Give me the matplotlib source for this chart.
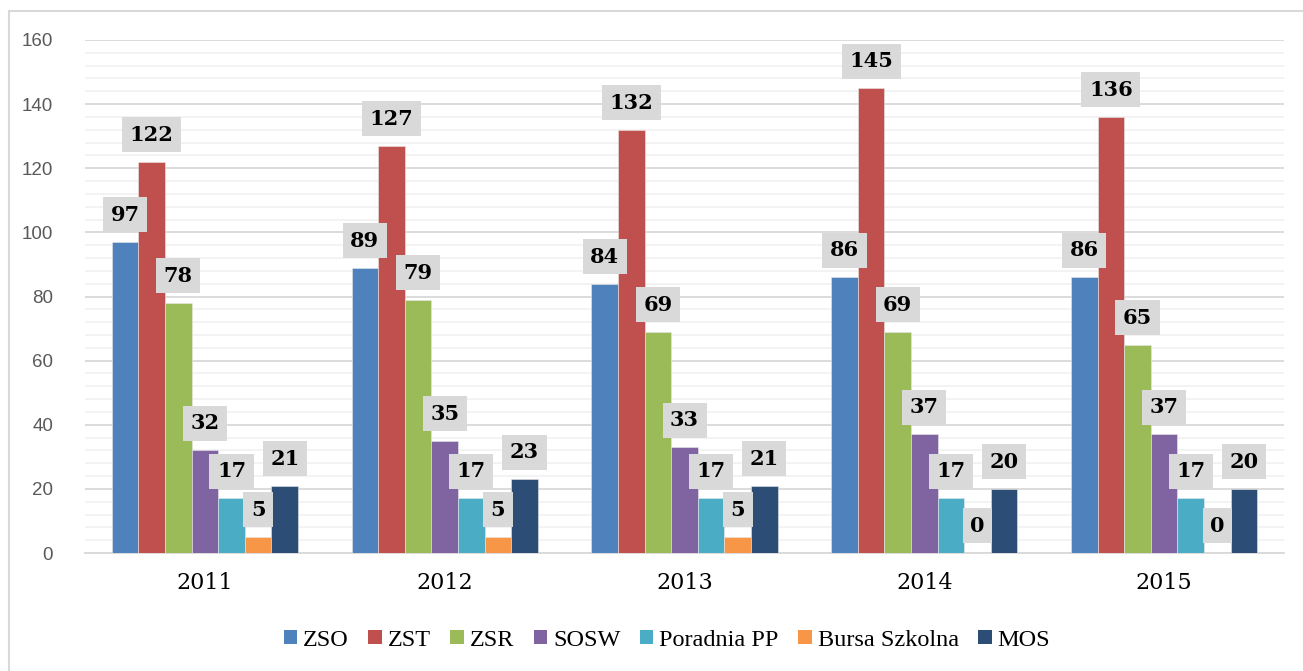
import matplotlib
matplotlib.use("Agg")
import matplotlib.pyplot as plt
import numpy as np
from matplotlib.patches import Rectangle, Patch
from matplotlib.ticker import MultipleLocator
from matplotlib.font_manager import FontProperties

years = ["2011", "2012", "2013", "2014", "2015"]
series_names = ["ZSO", "ZST", "ZSR", "SOSW", "Poradnia PP", "Bursa Szkolna", "MOS"]
zso = [97, 89, 84, 86, 86]
zst = [122, 127, 132, 145, 136]
zsr = [78, 79, 69, 69, 65]
sosw = [32, 35, 33, 37, 37]
poradnia = [17, 17, 17, 17, 17]
bursa = [5, 5, 5, 0, 0]
mos = [21, 23, 21, 20, 20]
all_series = [zso, zst, zsr, sosw, poradnia, bursa, mos]
colors = ["#4F81BD", "#C0504D", "#9BBB59", "#8064A2", "#4BACC6", "#F79646", "#2C4D75"]

W, H = 1303, 671
fig = plt.figure(figsize=(W / 100, H / 100), dpi=100)
ax = fig.add_axes([85 / W, (H - 553) / H, 1199 / W, 513 / H])

# outer chart border (only top/left visible)
fig.patches.append(Rectangle((8.5 / W, -0.1), 1.2, (H - 10.5) / H + 0.1,
                             transform=fig.transFigure, fill=False,
                             edgecolor="#d9d9d9", linewidth=1.5, zorder=0))

label_font = FontProperties(family="DejaVu Serif", weight="bold", size=15)
x = np.arange(len(years))
bw = 0.111
for i, (vals, col, name) in enumerate(zip(all_series, colors, series_names)):
    pos = x + (i - 3) * bw
    ax.bar(pos, vals, width=bw, color=col, edgecolor="#e8e8e8",
           linewidth=0.4, label=name, zorder=3)
    for xp, v in zip(pos, vals):
        ax.annotate(str(v), xy=(xp, v), xytext=(0, 19.5), textcoords="offset points",
                    ha="center", va="center", fontproperties=label_font,
                    color="black", zorder=5,
                    bbox=dict(boxstyle="square,pad=0.36", facecolor="#d9d9d9",
                              edgecolor="none"))

ax.set_xlim(-0.5, 4.5)
ax.set_ylim(0, 160)
ax.yaxis.set_major_locator(MultipleLocator(20))
ax.yaxis.set_minor_locator(MultipleLocator(4))
ax.grid(which="major", axis="y", color="#d9d9d9", linewidth=1.3, zorder=1)
ax.grid(which="minor", axis="y", color="#f2f2f2", linewidth=1.3, zorder=0)
ax.set_axisbelow(True)
for s in ["left", "right", "top"]:
    ax.spines[s].set_visible(False)
ax.spines["bottom"].set_color("#d9d9d9")
ax.spines["bottom"].set_linewidth(1.3)
ax.tick_params(axis="both", which="both", length=0)
ax.tick_params(axis="y", pad=23, labelsize=13.5, labelcolor="#595959",
               labelfontfamily="Liberation Sans")
ax.set_xticks(x)
ax.set_xticklabels(years, fontproperties=FontProperties(family="DejaVu Serif", size=16),
                   color="black")
ax.tick_params(axis="x", pad=14)

handles = [Patch(facecolor=c, edgecolor="none", label=n) for c, n in zip(colors, series_names)]
leg = fig.legend(handles=handles, loc="center", bbox_to_anchor=(667 / W, (H - 640) / H),
                 ncol=7, frameon=False,
                 prop=FontProperties(family="Liberation Serif", size=17.5),
                 handlelength=0.55, handleheight=0.55, handletextpad=0.25,
                 columnspacing=0.8, borderaxespad=0)

fig.savefig("out.png", dpi=100)
